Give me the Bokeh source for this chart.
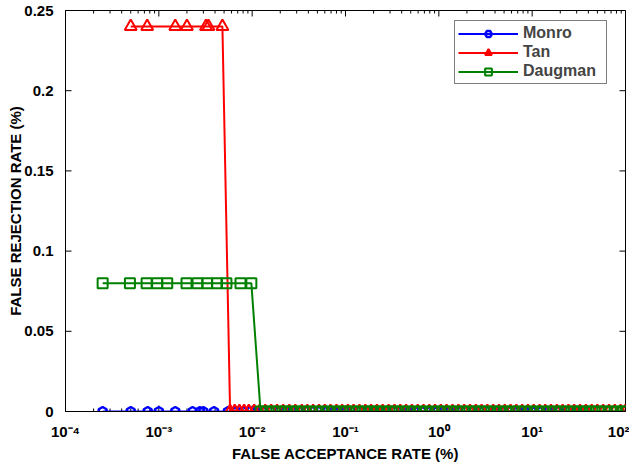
import math
from bokeh.plotting import figure
from bokeh.models import FixedTicker, Legend, LegendItem, Range1d
from bokeh.embed import file_html
from bokeh.resources import INLINE

# ---------------- data ----------------
monro_far = [2.5e-4, 5.0e-4, 7.6e-4, 1.0e-3, 1.5e-3, 2.3e-3, 2.75e-3, 3.0e-3, 3.9e-3,
             5.5e-3, 6.8e-3, 8.0e-3, 9.5e-3, 0.011, 0.013, 0.016, 0.019, 0.023, 0.027,
             0.032, 0.038, 0.045, 0.052, 0.062, 0.075, 0.088, 0.10, 0.12, 0.14, 0.17,
             0.20, 0.24, 0.28, 0.33, 0.40, 0.48, 0.56, 0.66, 0.80, 0.95, 1.1, 1.3,
             1.6, 1.9, 2.3, 2.8, 3.3, 4.0, 4.8, 5.8, 7.0, 8.5, 10.0, 12.5, 15.0, 19.0,
             24.0, 30.0, 38.0]
monro_frr = [0, 0, 0, 0, 0, 0, 0, 0, 0, 0, 0, 0, 0, 0, 0, 0, 0, 0, 0, 0,
             0, 0, 0, 0, 0, 0, 0, 0, 0, 0, 0, 0, 0, 0, 0, 0, 0, 0, 0, 0,
             0, 0, 0, 0, 0, 0, 0, 0, 0, 0, 0, 0, 0, 0, 0, 0, 0, 0, 0]

tan_far = [5.0e-4, 7.5e-4, 1.5e-3, 2.0e-3, 3.2e-3, 3.4e-3, 4.8e-3,
           0.0058, 0.0065, 0.0073, 0.0082, 0.0092, 0.0105, 0.012, 0.0138, 0.016,
           0.0185, 0.0215, 0.025, 0.029, 0.034, 0.039, 0.045, 0.052, 0.060, 0.069,
           0.080, 0.092, 0.106, 0.122, 0.141, 0.163, 0.188, 0.217, 0.25, 0.29,
           0.335, 0.386, 0.446, 0.515, 0.594, 0.686, 0.79, 0.91, 1.05, 1.21, 1.4,
           1.62, 1.87, 2.16, 2.49, 2.87, 3.31, 3.82, 4.41, 5.09, 5.87, 6.77, 7.81,
           9.0, 10.4, 12.0, 13.8, 15.9, 18.4, 21.2, 24.5, 28.2, 32.6, 37.6, 43.4,
           50.0, 57.7, 66.6, 76.8, 88.6, 100.0]
tan_frr = [0.24, 0.24, 0.24, 0.24, 0.24, 0.24, 0.24,
           0, 0, 0, 0, 0, 0, 0, 0, 0, 0, 0, 0, 0, 0, 0, 0, 0, 0, 0,
           0, 0, 0, 0, 0, 0, 0, 0, 0, 0, 0, 0, 0, 0, 0, 0, 0, 0, 0, 0,
           0, 0, 0, 0, 0, 0, 0, 0, 0, 0, 0, 0, 0, 0, 0, 0, 0, 0, 0, 0,
           0, 0, 0, 0, 0, 0, 0, 0, 0, 0, 0]

daugman_far = [2.5e-4, 4.9e-4, 7.4e-4, 9.6e-4, 1.23e-3, 1.98e-3, 2.6e-3, 3.3e-3,
               4.2e-3, 5.3e-3, 7.5e-3, 9.8e-3,
               0.0123, 0.0142, 0.0165, 0.0192, 0.0224, 0.026, 0.030, 0.035, 0.041,
               0.048, 0.056, 0.065, 0.076, 0.088, 0.102, 0.119, 0.138, 0.161, 0.187,
               0.218, 0.253, 0.295, 0.343, 0.40, 0.465, 0.54, 0.63, 0.73, 0.85, 0.99,
               1.15, 1.34, 1.56, 1.82, 2.12, 2.46, 2.87, 3.34, 3.89, 4.52, 5.26, 6.12,
               7.12, 8.29, 9.65, 11.2, 13.1, 15.2, 17.7, 20.6, 24.0, 27.9, 32.5, 37.8,
               44.0, 51.2, 59.6, 69.3, 80.7, 93.9, 100.0]
daugman_frr = [0.08, 0.08, 0.08, 0.08, 0.08, 0.08, 0.08, 0.08, 0.08, 0.08, 0.08, 0.08,
               0, 0, 0, 0, 0, 0, 0, 0, 0, 0, 0, 0, 0, 0, 0, 0, 0, 0, 0, 0,
               0, 0, 0, 0, 0, 0, 0, 0, 0, 0, 0, 0, 0, 0, 0, 0, 0, 0, 0, 0,
               0, 0, 0, 0, 0, 0, 0, 0, 0, 0, 0, 0, 0, 0, 0, 0, 0, 0, 0, 0, 0]

x_ticks = [1e-4, 1e-3, 1e-2, 1e-1, 1e0, 1e1, 1e2]
x_tick_labels = ["10\u207b\u2074", "10\u207b\u00b3", "10\u207b\u00b2", "10\u207b\u00b9",
                 "10\u2070", "10\u00b9", "10\u00b2"]
y_ticks = [0, 0.05, 0.1, 0.15, 0.2, 0.25]
y_tick_labels = ["0", "0.05", "0.1", "0.15", "0.2", "0.25"]

FONT = "Liberation Sans"
X0, X1, Y0, Y1 = 1e-4, 1e2, 0.0, 0.25

p = figure(width=629, height=464, x_axis_type="log",
           x_range=Range1d(X0, X1), y_range=Range1d(Y0, Y1),
           output_backend="svg", toolbar_location=None,
           min_border_left=65, min_border_right=4, min_border_top=10,
           min_border_bottom=53)
p.xgrid.visible = False
p.ygrid.visible = False
p.outline_line_color = "black"
p.outline_line_width = 1
p.background_fill_color = "white"
p.border_fill_color = "white"

def style_axis(ax):
    ax.axis_line_color = "black"
    ax.major_tick_line_color = None
    ax.minor_tick_line_color = None
    ax.major_label_text_font = FONT
    ax.major_label_text_font_style = "bold"
    ax.major_label_text_font_size = "15px"
    ax.major_label_text_color = "black"
    ax.axis_label_text_font = FONT
    ax.axis_label_text_font_style = "bold"
    ax.axis_label_text_font_size = "15px"
    ax.axis_label_text_color = "black"

xa = p.xaxis[0]
style_axis(xa)
xa.ticker = FixedTicker(ticks=x_ticks)
xa.major_label_overrides = {t: l for t, l in zip(x_ticks, x_tick_labels)}
xa.major_label_standoff = 5
xa.axis_label = "FALSE ACCEPTANCE RATE (%)"
xa.axis_label_standoff = 2

ya = p.yaxis[0]
style_axis(ya)
ya.ticker = FixedTicker(ticks=y_ticks)
ya.major_label_overrides = {t: l for t, l in zip(y_ticks, y_tick_labels)}
ya.major_label_standoff = 6
ya.axis_label = "FALSE REJECTION RATE (%)"
ya.axis_label_standoff = -3

# inward tick marks on all four sides (half of each dash is clipped by the frame)
minor_x = [m * 10.0 ** e for e in range(-4, 2) for m in range(2, 10)]
for yy in (Y0, Y1):
    p.scatter(x_ticks, [yy] * len(x_ticks), marker="dash", angle=math.pi / 2,
              size=12, line_color="black", line_width=1)
    p.scatter(minor_x, [yy] * len(minor_x), marker="dash", angle=math.pi / 2,
              size=6, line_color="black", line_width=1)
for xx in (X0, X1):
    p.scatter([xx] * len(y_ticks), y_ticks, marker="dash",
              size=12, line_color="black", line_width=1)

BLUE, RED, GREEN = "#0000ff", "#ff0000", "#008000"

l1 = p.line(monro_far, monro_frr, line_color=BLUE, line_width=2)
s1 = p.scatter(monro_far, monro_frr, marker="hex", size=9, angle=0.5236,
               line_color=BLUE, line_width=2.5, fill_color=None)
l2 = p.line(tan_far, tan_frr, line_color=RED, line_width=2)
s2 = p.scatter(tan_far, tan_frr, marker="triangle", size=12,
               line_color=RED, line_width=2, fill_color=None)
l3 = p.line(daugman_far, daugman_frr, line_color=GREEN, line_width=2)
s3 = p.scatter(daugman_far, daugman_frr, marker="square", size=10,
               line_color=GREEN, line_width=2, fill_color=None)

legend = Legend(items=[LegendItem(label="Monro", renderers=[l1, s1]),
                       LegendItem(label="Tan", renderers=[l2, s2]),
                       LegendItem(label="Daugman", renderers=[l3, s3])],
                location=(389, 327))
legend.margin = 0
legend.padding = 3
legend.spacing = 1
legend.glyph_width = 60
legend.glyph_height = 17
legend.label_height = 17
legend.label_width = 80
legend.label_standoff = 5
legend.label_text_font = FONT
legend.label_text_font_size = "16px"
legend.label_text_font_style = "bold"
legend.border_line_color = "black"
legend.border_line_width = 1
legend.background_fill_color = "white"
legend.background_fill_alpha = 1.0
p.add_layout(legend, "center")

open("out.html", "w").write(file_html(p, INLINE))
